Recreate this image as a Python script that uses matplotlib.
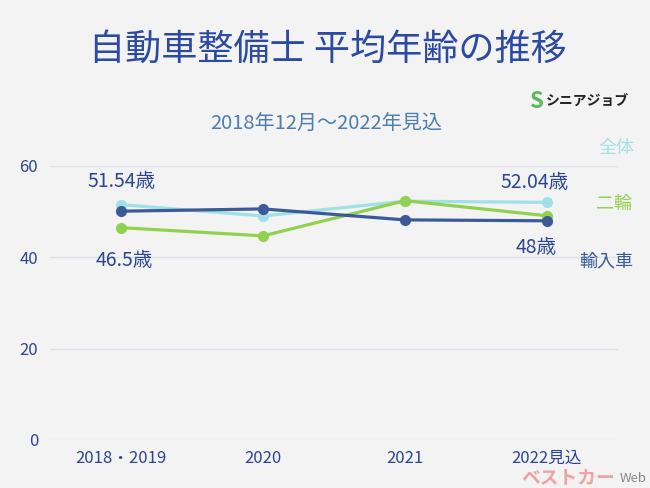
import matplotlib
matplotlib.use("Agg")
import matplotlib.pyplot as plt

plt.rcParams['font.family'] = ['Noto Sans CJK JP', 'DejaVu Sans']

categories = ["2018・2019", "2020", "2021", "2022見込"]
overall = [51.54, 49.05, 52.3, 52.04]      # 全体
motorcycle = [46.5, 44.7, 52.4, 49.1]       # 二輪
imported = [50.1, 50.6, 48.2, 48.0]         # 輸入車
yticks = [0, 20, 40, 60]

c_over = "#9fe1e6"
c_moto = "#92d050"
c_imp = "#3c5a97"
c_text = "#2b4593"
bg = "#f3f3f3"

fig = plt.figure(figsize=(6.5, 4.88), dpi=100, facecolor=bg)
ax = fig.add_axes([50/650, 48/488, 568/650, 274/488])
ax.set_facecolor("none")

x = list(range(len(categories)))
ax.plot(x, overall, color=c_over, lw=2.3, marker="o", ms=7, zorder=3)
ax.plot(x, motorcycle, color=c_moto, lw=2.3, marker="o", ms=7, zorder=4)
ax.plot(x, imported, color=c_imp, lw=2.3, marker="o", ms=7, zorder=5)

ax.set_xlim(-0.5, 3.5)
ax.set_ylim(0, 60)
ax.set_yticks(yticks)
ax.set_xticks(x)
ax.set_xticklabels(categories)
ax.grid(axis="y", color="#dde1ec", lw=1)
ax.set_axisbelow(True)
for s in ax.spines.values():
    s.set_visible(False)
ax.tick_params(length=0, colors=c_text, labelsize=12)
ax.tick_params(axis="y", pad=8.5)
ax.tick_params(axis="x", pad=7)
for lab in ax.get_yticklabels() + ax.get_xticklabels():
    lab.set_color(c_text)

# value annotations
ax.annotate(f"{overall[0]}歳", (0, overall[0]), xytext=(0, 9), textcoords="offset points",
            ha="center", va="bottom", fontsize=14, color=c_text)
ax.annotate(f"{motorcycle[0]}歳", (0, motorcycle[0]), xytext=(2, -16), textcoords="offset points",
            ha="center", va="top", fontsize=14, color=c_text)
ax.annotate(f"{overall[3]}歳", (3, overall[3]), xytext=(-9, 7), textcoords="offset points",
            ha="center", va="bottom", fontsize=14, color=c_text)
ax.annotate(f"{imported[3]:g}歳", (3, imported[3]), xytext=(-8, -12), textcoords="offset points",
            ha="center", va="top", fontsize=14, color=c_text)

# series labels on the right
fig.text(616/650, 1 - 148/488, "全体", color=c_over, fontsize=13, ha="center", va="center")
fig.text(614/650, 1 - 204/488, "二輪", color=c_moto, fontsize=13, ha="center", va="center")
fig.text(606/650, 1 - 262/488, "輸入車", color=c_imp, fontsize=13, ha="center", va="center")

# titles
fig.text(328/650, 1 - 50/488, "自動車整備士 平均年齢の推移", color="#2b4aa3", fontsize=26,
         ha="center", va="center")
fig.text(326/650, 1 - 124/488, "2018年12月～2022年見込", color="#4a7fb0", fontsize=14.5,
         ha="center", va="center")

# logo
fig.text(536/650, 1 - 101/488, "S", color="#5cb85c", fontsize=16, fontweight="bold",
         ha="center", va="center", style="italic")
fig.text(587/650, 1 - 101/488, "シニアジョブ", color="#222222", fontsize=10, fontweight="bold",
         ha="center", va="center")

# watermark
fig.text(568/650, 1 - 478/488, "ベストカー", color="#f08080", fontsize=13.5, fontweight="bold",
         ha="center", va="center", style="italic", alpha=0.7)
fig.text(633/650, 1 - 479/488, "Web", color="#888888", fontsize=9.5,
         ha="center", va="center")

fig.savefig("out.png", dpi=100, facecolor=bg)
